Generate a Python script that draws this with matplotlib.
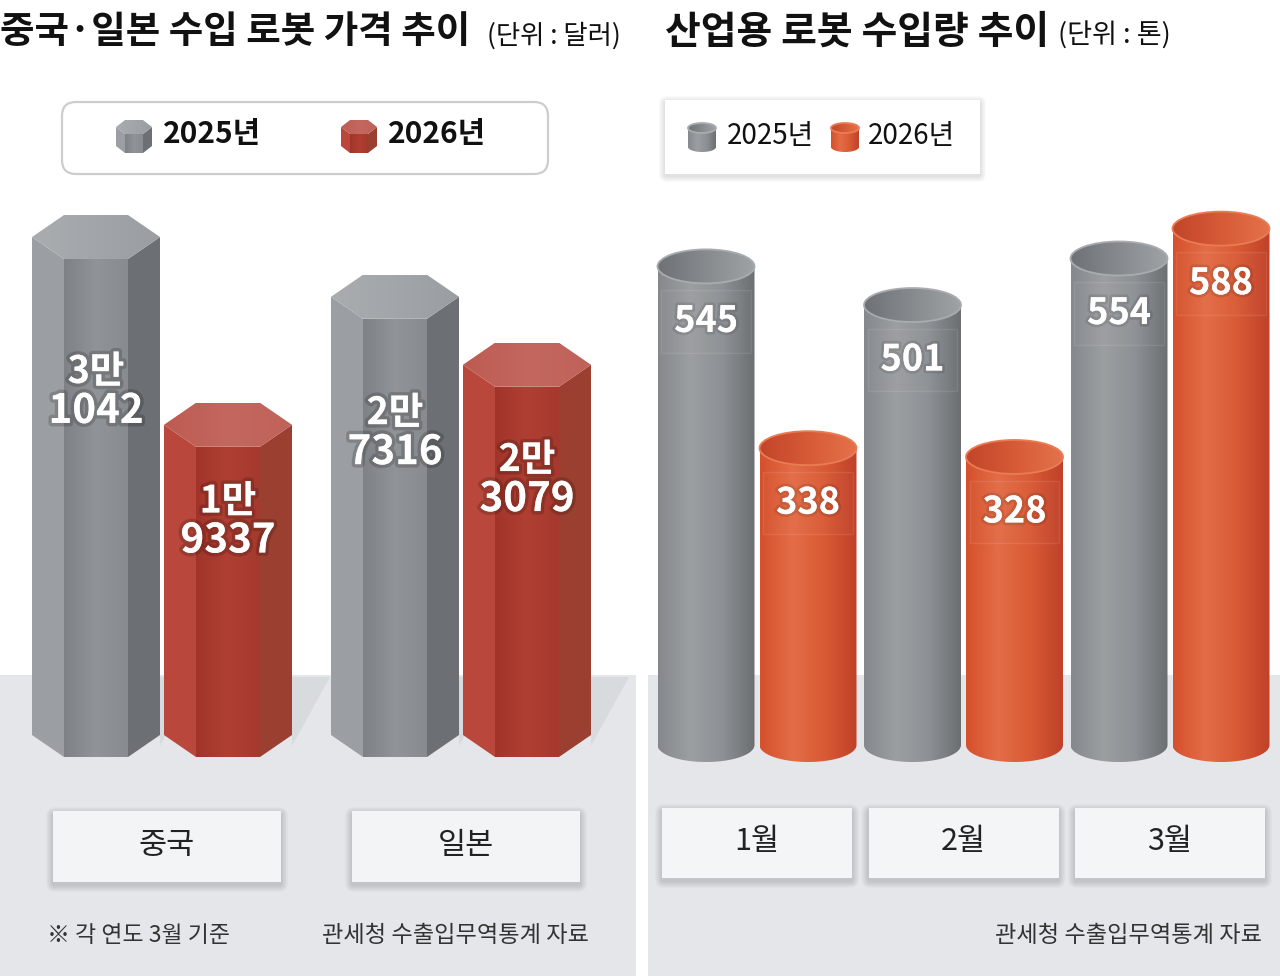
import numpy as np
import matplotlib
matplotlib.use('Agg')
import matplotlib.pyplot as plt
import matplotlib.patheffects as pe
import matplotlib.transforms as mtransforms
from matplotlib.patches import Polygon, Rectangle, Ellipse, FancyBboxPatch
from matplotlib.colors import LinearSegmentedColormap

plt.rcParams['font.family'] = ['Noto Sans CJK KR', 'DejaVu Sans']

# ---- data ----
countries = ['중국', '일본']
price_2025 = [31042, 27316]
price_2026 = [19337, 23079]

months = ['1월', '2월', '3월']
volume_2025 = [545, 501, 554]
volume_2026 = [338, 328, 588]

years = ['2025년', '2026년']

W, H = 1280, 976
fig = plt.figure(figsize=(12.8, 9.76), dpi=100)
bg = fig.add_axes([0, 0, 1, 1])
bg.set_xlim(0, W)
bg.set_ylim(H, 0)
bg.axis('off')

GRAD = np.linspace(0, 1, 256).reshape(1, -1)


def cmap(colors):
    return LinearSegmentedColormap.from_list('g', colors)


GRAY_HEX = dict(left='#9b9ea2', front=['#7e8185', '#909397', '#888b8f'],
                right='#6c6f73', top=['#aaadb0', '#a2a5a9', '#9a9da1'])
RED_HEX = dict(left='#b9473b', front=['#a1342a', '#b03f33', '#a5392e'],
               right='#9b3f31', top=['#bd5b52', '#c4675f', '#c06259'])
GRAY_CYL = dict(body=['#85888c', '#9c9fa2', '#8d9094', '#6c6f72'],
                top=['#6e7175', '#878a8e', '#a0a3a6'], rim='#a9acaf')
RED_CYL = dict(body=['#d5502c', '#e36d47', '#d95a35', '#bf4129'],
               top=['#c2452a', '#d65b36', '#e4724a'], rim='#ea7c55')


def grad_fill(ax, patch, colors, z):
    ax.add_patch(patch)
    (x0, y0), (x1, y1) = patch.get_path().get_extents(patch.get_patch_transform()).get_points()
    im = ax.imshow(GRAD, cmap=cmap(colors), extent=[x0, x1, y0, y1],
                   aspect='auto', interpolation='bicubic', zorder=z)
    im.set_clip_path(patch)


def hex_prism(ax, xc, y0, top, hw, iw, d, st, z=2):
    left = [(xc - hw, top), (xc - iw, top - d), (xc - iw, y0 - d), (xc - hw, y0)]
    right = [(xc + iw, top - d), (xc + hw, top), (xc + hw, y0), (xc + iw, y0 - d)]
    front = [(xc - iw, top - d), (xc + iw, top - d), (xc + iw, y0 - d), (xc - iw, y0 - d)]
    cap = [(xc - hw, top), (xc - iw, top + d), (xc + iw, top + d),
           (xc + hw, top), (xc + iw, top - d), (xc - iw, top - d)]
    ax.add_patch(Polygon(left, closed=True, fc=st['left'], ec='none', zorder=z))
    ax.add_patch(Polygon(right, closed=True, fc=st['right'], ec='none', zorder=z))
    grad_fill(ax, Polygon(front, closed=True, fc='none', ec='none', zorder=z), st['front'], z + 0.1)
    grad_fill(ax, Polygon(cap, closed=True, fc='none', ec='none', zorder=z), st['top'], z + 0.2)


def cylinder(ax, xc, y0, top, r, ry, st, z=2):
    # ry > 0 for y-up axes, ry < 0 for y-down axes
    a = np.linspace(np.pi, 2 * np.pi, 80)
    pts = [(xc - r, top)] + list(zip(xc + r * np.cos(a), y0 + ry * np.sin(a))) + [(xc + r, top)]
    grad_fill(ax, Polygon(pts, closed=True, fc='none', ec='none', zorder=z), st['body'], z)
    cap = Ellipse((xc, top), 2 * r, 2 * abs(ry), fc='none', ec='none', zorder=z)
    grad_fill(ax, cap, st['top'], z + 0.1)
    ax.add_patch(Ellipse((xc, top), 2 * r, 2 * abs(ry), fc='none', ec=st['rim'],
                         lw=1.3, zorder=z + 0.2))


def chart_axes(px0, px1, center0, step, base_px, ppu):
    ax = fig.add_axes([px0 / W, 0, (px1 - px0) / W, 1])
    ax.set_xlim((px0 - center0) / step, (px1 - center0) / step)
    ax.set_ylim(-(H - base_px) / ppu, base_px / ppu)
    ax.axis('off')
    return ax


def shadow_box(x0, y0, w, h, fc, layers=7, dy=3):
    for k in range(layers, 0, -1):
        bg.add_patch(FancyBboxPatch((x0 - k, y0 - k + dy), w + 2 * k, h + 2 * k,
                                    boxstyle='round,pad=0,rounding_size=%d' % (k + 2),
                                    fc='black', ec='none', alpha=0.018, zorder=1))
    bg.add_patch(Rectangle((x0, y0), w, h, fc=fc, ec='none', zorder=1.5))


def px_x(ax, xv):
    return ax.transData.transform((xv, 0))[0]


# ---- floors ----
bg.add_patch(Rectangle((0, 675), 636, 301, fc='#e4e6e9', ec='none', zorder=0))
bg.add_patch(Rectangle((648, 675), 632, 301, fc='#e4e6e9', ec='none', zorder=0))

glow = pe.withStroke(linewidth=5, foreground=(0, 0, 0, 0.17))

# ---- left panel: hexagonal prisms ----
PX_L, PPU_L = 299.0, 0.016042
ax_l = chart_axes(0, 640, 162, PX_L, 735, PPU_L)
off_l = 66 / PX_L
hw, iw, d = 64 / PX_L, 32 / PX_L, 22 / PPU_L
t_up = mtransforms.offset_copy(ax_l.transData, fig, y=20, units='dots')
t_dn = mtransforms.offset_copy(ax_l.transData, fig, y=-20, units='dots')
for i, (v25, v26) in enumerate(zip(price_2025, price_2026)):
    for xc, v, st in [(i - off_l, v25, GRAY_HEX), (i + off_l, v26, RED_HEX)]:
        hex_prism(ax_l, xc, 0, v, hw, iw, d, st)
        # soft floor shadow to the right of each prism
        rx = px_x(ax_l, xc + hw)
        bg.add_patch(Polygon([(rx, 677), (rx + 38, 677), (rx, 746)], closed=True,
                             fc='#c4c8cc', ec='none', alpha=0.35, zorder=0.5))
        ax_l.text(xc, v * 0.69, f'{v // 10000}만', transform=t_up, ha='center', va='center',
                  color='white', fontsize=27, weight='bold', zorder=5, path_effects=[glow])
        ax_l.text(xc, v * 0.69, f'{v % 10000:04d}', transform=t_dn, ha='center', va='center',
                  color='white', fontsize=29, weight='bold', zorder=5, path_effects=[glow])
    cx = px_x(ax_l, i) + 5
    shadow_box(cx - 114, 811, 228, 71, '#f3f4f5')
    bg.text(cx, 845, countries[i], ha='center', va='center', fontsize=22, color='#222', zorder=3)

# ---- right panel: cylinders ----
PX_R, PPU_R = 206.5, 0.8782
ax_r = chart_axes(640, 1280, 757, PX_R, 745, PPU_R)
off_r = 51 / PX_R
r, ry = 48.5 / PX_R, 17 / PPU_R
t_lab = mtransforms.offset_copy(ax_r.transData, fig, y=-55, units='dots')
for i, (v25, v26) in enumerate(zip(volume_2025, volume_2026)):
    for xc, v, st in [(i - off_r, v25, GRAY_CYL), (i + off_r, v26, RED_CYL)]:
        cylinder(ax_r, xc, 0, v, r, ry, st)
        ax_r.text(xc, v, f'{v}', transform=t_lab, ha='center', va='center', color='white',
                  fontsize=26, weight='bold', zorder=5,
                  path_effects=[pe.withStroke(linewidth=4, foreground=(0, 0, 0, 0.1))],
                  bbox=dict(boxstyle='square,pad=0.35', fc=(1, 1, 1, 0.02),
                            ec=(1, 1, 1, 0.09), lw=1))
    cx = px_x(ax_r, i)
    shadow_box(cx - 95, 808, 190, 70, '#f4f5f6')
    bg.text(cx, 841, months[i], ha='center', va='center', fontsize=22, color='#222', zorder=3)

# ---- titles ----
bg.text(0, 32, '중국·일본 수입 로봇 가격 추이', fontsize=27, weight='bold', va='center', color='#111')
bg.text(487, 36, '(단위 : 달러)', fontsize=19, weight='medium', va='center', color='#111')
bg.text(665, 32, '산업용 로봇 수입량 추이', fontsize=28, weight='bold', va='center', color='#111')
bg.text(1058, 36, '(단위 : 톤)', fontsize=19.5, weight='medium', va='center', color='#111')

# ---- legends ----
bg.add_patch(FancyBboxPatch((62, 102), 486, 72, boxstyle='round,pad=0,rounding_size=14',
                            fc='white', ec='#cdcdcd', lw=1.6, zorder=1))
for (ix, st), lab, tx in zip([(134, GRAY_HEX), (359, RED_HEX)], years, [163, 388]):
    hex_prism(bg, ix, 146, 127, 18, 9, -7, st, z=2)
    bg.text(tx, 134, lab, fontsize=21.5, weight='bold', va='center', color='#111', zorder=3)

shadow_box(665, 100, 315, 74, 'white', layers=6, dy=2)
for (ix, st), lab, tx in zip([(702, GRAY_CYL), (845, RED_CYL)], years, [727, 868]):
    cylinder(bg, ix, 147, 128, 14, -5, st, z=2)
    bg.text(tx, 136, lab, fontsize=20, weight='medium', va='center', color='#111', zorder=3)

# ---- footnotes ----
bg.text(47, 936, '※ 각 연도 3월 기준', fontsize=16.5, va='center', color='#333')
bg.text(322, 936, '관세청 수출입무역통계 자료', fontsize=16.7, va='center', color='#333')
bg.text(1262, 936, '관세청 수출입무역통계 자료', fontsize=16.7, va='center', ha='right', color='#333')

fig.savefig('out.png', dpi=100)
